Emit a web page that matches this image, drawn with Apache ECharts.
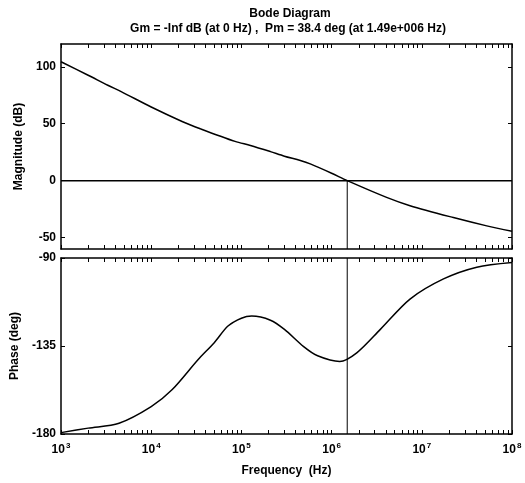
<!DOCTYPE html>
<html>
<head>
<meta charset="utf-8">
<script src="https://cdn.jsdelivr.net/npm/echarts@6/dist/echarts.min.js"></script>
<style>
  html, body { margin: 0; padding: 0; background: #fff; }
  #chart { width: 525px; height: 483px; }
</style>
</head>
<body>
<div id="chart"></div>
<script>
// 幅频数据 (Hz, dB)
const magFreq = [1000, 2000, 3300, 4700, 10000, 22000, 35000, 85000, 126000, 210000, 300000, 450000, 580000, 1000000, 1490000, 4070000, 7400000, 22400000, 52500000, 100000000];
const magDb   = [104.4, 92.6, 83.8, 78, 64.7, 52, 45.6, 34.5, 30.9, 25.5, 21.5, 17.7, 14.7, 6.5, 0, -14.7, -22, -32.4, -39.7, -44.5];

// 相频数据 (Hz, deg)
const phaseFreq = [1000, 2000, 4400, 10000, 17000, 33000, 50000, 71000, 100000, 130000, 210000, 300000, 490000, 700000, 1230000, 1900000, 3470000, 7400000, 17400000, 40700000, 100000000];
const phaseDeg  = [-179.3, -177, -174.5, -166, -157.4, -142, -133.3, -124.8, -120.8, -119.7, -121.8, -126.5, -135.3, -140, -142.9, -138.5, -126.5, -111, -100.7, -94.7, -92.3];

// 穿越频率
const crossFreq = 1.49e6;

const majorTicks = [1e3, 1e4, 1e5, 1e6, 1e7, 1e8];
const minorTicks = [];
for (let k = 3; k < 8; k++) {
  for (let m = 1; m < 10; m++) minorTicks.push(m * Math.pow(10, k));
}
minorTicks.push(1e8);

const magTicks = [-50, 0, 50, 100];
const phaseTicks = [-180, -135, -90];

const font = 'Liberation Sans, Arial, sans-serif';
const lineStyle = { color: '#000', width: 1.5 };

function xAxisCfg(gridIndex, position, showLabel) {
  return {
    type: 'log', logBase: 10, gridIndex, position,
    min: 1e3, max: 1e8,
    axisLine: { show: true, onZero: false, lineStyle },
    axisTick: { show: true, inside: true, length: 4, customValues: minorTicks, lineStyle: { color: '#000', width: 1 } },
    splitLine: { show: false },
    axisLabel: showLabel ? {
      show: true, customValues: majorTicks, margin: 8,
      formatter: v => '{b|10}{s|' + Math.round(Math.log10(v)) + '}',
      rich: {
        b: { fontFamily: font, fontWeight: 'bold', fontSize: 12, color: '#000' },
        s: { fontFamily: font, fontWeight: 'bold', fontSize: 8, color: '#000', verticalAlign: 'top', padding: [0, 0, 7, 1] }
      }
    } : { show: false },
    name: showLabel ? 'Frequency  (Hz)' : '',
    nameLocation: 'middle', nameGap: 31,
    nameTextStyle: { fontFamily: font, fontWeight: 'bold', fontSize: 12, color: '#000' }
  };
}

function yAxisCfg(gridIndex, position, min, max, ticks, name) {
  const left = position === 'left';
  return {
    type: 'value', gridIndex, position, min, max,
    axisLine: { show: true, onZero: false, lineStyle },
    axisTick: { show: true, inside: true, length: 4, customValues: ticks, lineStyle: { color: '#000', width: 1 } },
    splitLine: { show: false },
    axisLabel: left ? {
      show: true, customValues: ticks, margin: 5,
      fontFamily: font, fontWeight: 'bold', fontSize: 12, color: '#000'
    } : { show: false },
    name: left ? name : '',
    nameLocation: 'middle', nameGap: 31,
    nameTextStyle: { fontFamily: font, fontWeight: 'bold', fontSize: 12, color: '#000' }
  };
}

const chart = echarts.init(document.getElementById('chart'), null, { renderer: 'canvas' });

chart.setOption({
  backgroundColor: '#fff',
  animation: false,
  title: [
    { text: 'Bode Diagram', left: 285, top: 3, textAlign: 'center',
      textStyle: { fontFamily: font, fontWeight: 'bold', fontSize: 12, color: '#000' } },
    { text: 'Gm = -Inf dB (at 0 Hz) ,  Pm = 38.4 deg (at 1.49e+006 Hz)', left: 283, top: 18, textAlign: 'center',
      textStyle: { fontFamily: font, fontWeight: 'bold', fontSize: 12, color: '#000' } }
  ],
  grid: [
    { left: 61, top: 44, width: 451, height: 205 },
    { left: 61, top: 258, width: 451, height: 176 }
  ],
  xAxis: [
    xAxisCfg(0, 'bottom', false),
    xAxisCfg(0, 'top', false),
    xAxisCfg(1, 'bottom', true),
    xAxisCfg(1, 'top', false)
  ],
  yAxis: [
    yAxisCfg(0, 'left', -60, 120, magTicks, 'Magnitude (dB)'),
    yAxisCfg(0, 'right', -60, 120, magTicks, ''),
    yAxisCfg(1, 'left', -180, -90, phaseTicks, 'Phase (deg)'),
    yAxisCfg(1, 'right', -180, -90, phaseTicks, '')
  ],
  series: [
    { type: 'line', xAxisIndex: 0, yAxisIndex: 0, showSymbol: false, smooth: 0.3,
      data: magFreq.map((f, i) => [f, magDb[i]]), lineStyle, z: 5 },
    { type: 'line', xAxisIndex: 0, yAxisIndex: 0, showSymbol: false,
      data: [[1e3, 0], [1e8, 0]], lineStyle: { color: '#000', width: 1.5 } },
    { type: 'line', xAxisIndex: 0, yAxisIndex: 0, showSymbol: false,
      data: [[crossFreq, 0], [crossFreq, -60]], lineStyle: { color: '#000', width: 1 } },
    { type: 'line', xAxisIndex: 2, yAxisIndex: 2, showSymbol: false, smooth: 0.3,
      data: phaseFreq.map((f, i) => [f, phaseDeg[i]]), lineStyle, z: 5 },
    { type: 'line', xAxisIndex: 2, yAxisIndex: 2, showSymbol: false,
      data: [[crossFreq, -90], [crossFreq, -180]], lineStyle: { color: '#000', width: 1 } }
  ]
});
</script>
</body>
</html>
